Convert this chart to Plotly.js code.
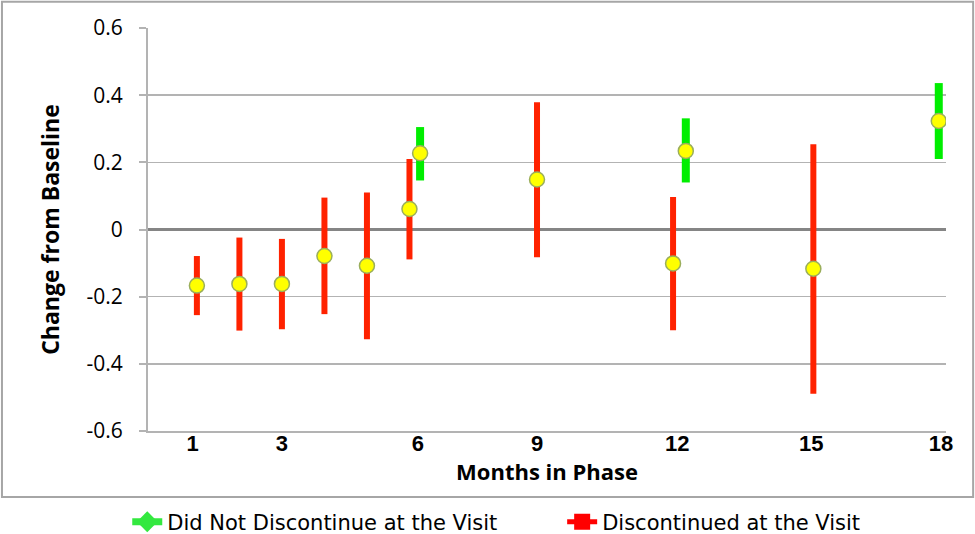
<!DOCTYPE html>
<html>
<head>
<meta charset="utf-8">
<script src="https://cdn.plot.ly/plotly-3.0.1.min.js"></script>
<style>
  html, body { margin: 0; padding: 0; background: #fff; }
  #chart { width: 975px; height: 534px; }
</style>
</head>
<body>
<div id="chart"></div>
<script>
// Discontinued at the Visit (red)
const discX     = [1, 2, 3, 4, 5, 6, 9, 12.2, 15.5];
const discMean  = [-0.167, -0.162, -0.162, -0.079, -0.108, 0.061, 0.149, -0.101, -0.117];
const discHigh  = [-0.079, -0.024, -0.028, 0.095, 0.110, 0.210, 0.379, 0.097, 0.254];
const discLow   = [-0.255, -0.301, -0.297, -0.252, -0.327, -0.089, -0.083, -0.300, -0.489];

// Did Not Discontinue at the Visit (green)
const contX     = [6.25, 12.5, 18.45];
const contMean  = [0.227, 0.234, 0.323];
const contHigh  = [0.305, 0.331, 0.436];
const contLow   = [0.146, 0.140, 0.210];

// x tick labels
const tickPos   = [0.9, 3, 6.2, 9, 12.3, 15.45, 18.5];
const tickText  = ['1', '3', '6', '9', '12', '15', '18'];

const contName = 'Did Not Discontinue at the Visit';
const discName = 'Discontinued at the Visit';

function errTrace(x, mean, high, low, color, thickness) {
    return {
        x: x,
        y: mean,
        type: 'scatter',
        mode: 'markers',
        showlegend: false,
        hoverinfo: 'x+y',
        marker: { color: '#ffff00', size: 15, line: { color: '#9aae5c', width: 1.5 } },
        error_y: {
            type: 'data',
            symmetric: false,
            array: high.map((h, i) => h - mean[i]),
            arrayminus: low.map((l, i) => mean[i] - l),
            color: color,
            thickness: thickness,
            width: 0
        }
    };
}

// legend-only entries (line with marker, like the original legend)
const legendCont = {
    x: [null], y: [null], type: 'scatter', mode: 'lines+markers', name: contName,
    legend: 'legend',
    line: { color: '#33e83f', width: 7 },
    marker: { color: '#33e83f', symbol: 'diamond', size: 16 }
};
const legendDisc = {
    x: [null], y: [null], type: 'scatter', mode: 'lines+markers', name: discName,
    legend: 'legend2',
    line: { color: '#ff0000', width: 5 },
    marker: { color: '#ff0000', symbol: 'square', size: 16 }
};

const traces = [
    errTrace(discX, discMean, discHigh, discLow, '#ff2200', 6),
    errTrace(contX, contMean, contHigh, contLow, '#00ee00', 8),
    legendCont,
    legendDisc
];

const legendFont = { family: 'DejaVu Sans', size: 21, color: '#000' };

const layout = {
    width: 975,
    height: 534,
    margin: { l: 148, r: 29, t: 28, b: 103, autoexpand: false },
    paper_bgcolor: '#ffffff',
    plot_bgcolor: '#ffffff',
    showlegend: true,
    legend: {
        orientation: 'h',
        x: -0.026, xanchor: 'left',
        y: -0.226, yanchor: 'middle',
        bgcolor: 'rgba(0,0,0,0)',
        font: legendFont
    },
    legend2: {
        orientation: 'h',
        x: 0.519, xanchor: 'left',
        y: -0.226, yanchor: 'middle',
        bgcolor: 'rgba(0,0,0,0)',
        font: legendFont
    },
    xaxis: {
        range: [-0.15, 18.62],
        tickmode: 'array',
        tickvals: tickPos,
        ticktext: tickText,
        showgrid: false,
        zeroline: false,
        showline: true,
        linecolor: '#b3b3b3',
        linewidth: 2,
        ticks: '',
        ticklabelstandoff: -8,
        tickfont: { family: 'Liberation Sans', size: 22, color: '#000', weight: 'bold' },
        title: {
            text: '<b>Months in Phase</b>',
            font: { family: 'Open Sans', size: 22, color: '#000' },
            standoff: 0
        }
    },
    yaxis: {
        range: [-0.6, 0.6],
        tickvals: [-0.6, -0.4, -0.2, 0, 0.2, 0.4, 0.6],
        ticktext: ['-0.6', '-0.4', '-0.2', '0', '0.2', '0.4', '0.6'],
        showgrid: true,
        gridcolor: '#b3b3b3',
        gridwidth: 1.5,
        zeroline: true,
        zerolinecolor: '#858585',
        zerolinewidth: 3,
        showline: true,
        linecolor: '#b3b3b3',
        linewidth: 2,
        ticks: 'outside',
        ticklen: 7,
        tickcolor: '#b3b3b3',
        tickwidth: 2,
        ticklabelstandoff: 12,
        tickfont: { family: 'Open Sans', size: 21, color: '#000' },
        title: {
            text: '<b>Change from Baseline</b>',
            font: { family: 'Open Sans', size: 23, color: '#000' },
            standoff: 20
        }
    },
    shapes: [{
        type: 'rect',
        xref: 'paper', yref: 'paper',
        x0: -0.183, x1: 1.034,
        y0: -0.164, y1: 1.065,
        line: { color: '#a6a6a6', width: 2 },
        fillcolor: 'rgba(0,0,0,0)',
        layer: 'below'
    }]
};

Plotly.newPlot('chart', traces, layout, { displayModeBar: false, staticPlot: true });
</script>
</body>
</html>
